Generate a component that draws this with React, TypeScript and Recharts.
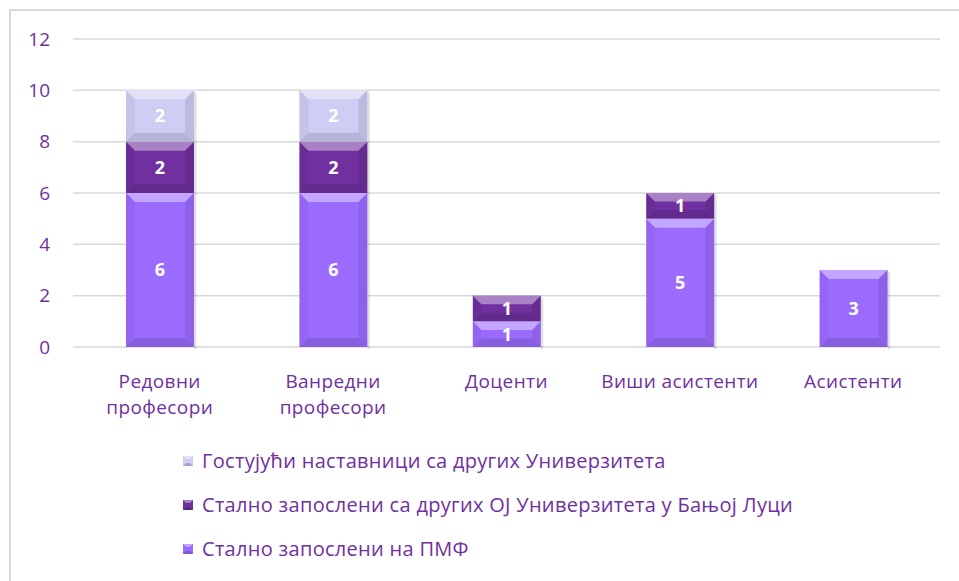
import React from 'react';
import { BarChart, Bar, XAxis, YAxis, CartesianGrid, Legend, LabelList } from 'recharts';

const categories = ['Редовни професори', 'Ванредни професори', 'Доценти', 'Виши асистенти', 'Асистенти'];
const pmfStaff = [6, 6, 1, 5, 3];
const otherUnitsStaff = [2, 2, 1, 1, null];
const guestStaff = [2, 2, null, null, null];
const yTicks = [0, 2, 4, 6, 8, 10, 12];

const seriesNames = {
  pmf: 'Стално запослени на ПМФ',
  other: 'Стално запослени са других ОЈ Универзитета у Бањој Луци',
  guest: 'Гостујући наставници са других Универзитета',
};
const colors = { pmf: '#9b6bff', other: '#7030a0', guest: '#cfcdf4' };

const data = categories.map((c, i) => ({
  name: c,
  pmf: pmfStaff[i],
  other: otherUnitsStaff[i],
  guest: guestStaff[i],
}));

const TEXT = '#7030a0';
const FONT = '"Open Sans", "Noto Sans", sans-serif';

const BevelBar = (props: any) => {
  const { x, y, width, height, fill } = props;
  if (!height || height <= 0) return null;
  const b = Math.min(9, height / 3);
  return (
    <g>
      <rect x={x + width} y={y + 2} width={2.5} height={height} fill="#000" opacity={0.12} />
      <rect x={x} y={y} width={width} height={height} fill={fill} />
      <polygon points={`${x},${y} ${x + width},${y} ${x + width - b},${y + b} ${x + b},${y + b}`} fill="#fff" opacity={0.4} />
      <polygon points={`${x},${y + height} ${x + width},${y + height} ${x + width - b},${y + height - b} ${x + b},${y + height - b}`} fill="#000" opacity={0.12} />
      <polygon points={`${x},${y} ${x + b},${y + b} ${x + b},${y + height - b} ${x},${y + height}`} fill="#000" opacity={0.05} />
      <polygon points={`${x + width},${y} ${x + width - b},${y + b} ${x + width - b},${y + height - b} ${x + width},${y + height}`} fill="#000" opacity={0.09} />
    </g>
  );
};

const XTick = (props: any) => {
  const { x, y, payload } = props;
  const label: string = payload.value;
  const lines = label.length > 15 ? label.split(' ') : [label];
  return (
    <text x={x} y={y} textAnchor="middle" fill={TEXT} fontSize={19} fontFamily={FONT} letterSpacing={0.4}>
      {lines.map((l, i) => (
        <tspan key={i} x={x} dy={i === 0 ? 41 : 26}>{l}</tspan>
      ))}
    </text>
  );
};

const LegendIcon = ({ color }: { color: string }) => (
  <svg width={10} height={10} style={{ display: 'block' }}>
    <rect x={0} y={0} width={10} height={10} fill={color} />
    <polygon points="0,0 10,0 7,3 3,3" fill="#fff" opacity={0.4} />
    <polygon points="0,10 10,10 7,7 3,7" fill="#000" opacity={0.2} />
  </svg>
);

const LegendContent = () => {
  const rows: Array<keyof typeof seriesNames> = ['guest', 'other', 'pmf'];
  return (
    <div style={{ height: 132 }}>
      {rows.map((k) => (
        <div key={k} style={{ height: 44, display: 'flex', alignItems: 'center' }}>
          <LegendIcon color={colors[k]} />
          <span style={{ marginLeft: 9, color: TEXT, fontSize: 20, letterSpacing: 0.3, fontFamily: FONT, whiteSpace: 'nowrap', lineHeight: '44px' }}>{seriesNames[k]}</span>
        </div>
      ))}
    </div>
  );
};

const labelFmt = (v: any) => (v === null || v === undefined || v === 0 ? '' : v);

export default function App() {
  return (
    <div style={{ position: 'absolute', left: 0, top: 0, width: 959, height: 581, background: '#fff', overflow: 'hidden' }}>
      <div style={{ position: 'absolute', left: 9, top: 9, width: 960, height: 580, borderLeft: '2px solid #d9d9d9', borderTop: '2px solid #d9d9d9' }} />
      <div style={{ position: 'absolute', left: 0, top: 0 }}>
        <BarChart
          width={959}
          height={581}
          data={data}
          margin={{ top: 39, right: 19, left: 0, bottom: 32 }}
          style={{ fontFamily: FONT }}
        >
          <CartesianGrid vertical={false} stroke="#d9d9d9" strokeWidth={1.5} />
          <XAxis dataKey="name" axisLine={false} tickLine={false} tickSize={0} tickMargin={0} height={70} tick={<XTick />} interval={0} />
          <YAxis
            domain={[0, 12]}
            ticks={yTicks}
            width={73}
            axisLine={false}
            tickLine={false}
            tickSize={0}
            tickMargin={23}
            tick={{ fill: TEXT, fontSize: 19, fontFamily: FONT }}
          />
          <Legend
            verticalAlign="bottom"
            align="left"
            layout="horizontal"
            content={<LegendContent />}
            wrapperStyle={{ position: 'absolute', left: 183, top: 439, width: 760, height: 132 }}
          />
          <Bar dataKey="pmf" name={seriesNames.pmf} stackId="a" fill={colors.pmf} barSize={68} shape={<BevelBar />} isAnimationActive={false}>
            <LabelList dataKey="pmf" position="center" fill="#fff" fontSize={18} fontWeight="bold" fontFamily={FONT} formatter={labelFmt} />
          </Bar>
          <Bar dataKey="other" name={seriesNames.other} stackId="a" fill={colors.other} barSize={68} shape={<BevelBar />} isAnimationActive={false}>
            <LabelList dataKey="other" position="center" fill="#fff" fontSize={18} fontWeight="bold" fontFamily={FONT} formatter={labelFmt} />
          </Bar>
          <Bar dataKey="guest" name={seriesNames.guest} stackId="a" fill={colors.guest} barSize={68} shape={<BevelBar />} isAnimationActive={false}>
            <LabelList dataKey="guest" position="center" fill="#fff" fontSize={18} fontWeight="bold" fontFamily={FONT} formatter={labelFmt} />
          </Bar>
        </BarChart>
      </div>
    </div>
  );
}
